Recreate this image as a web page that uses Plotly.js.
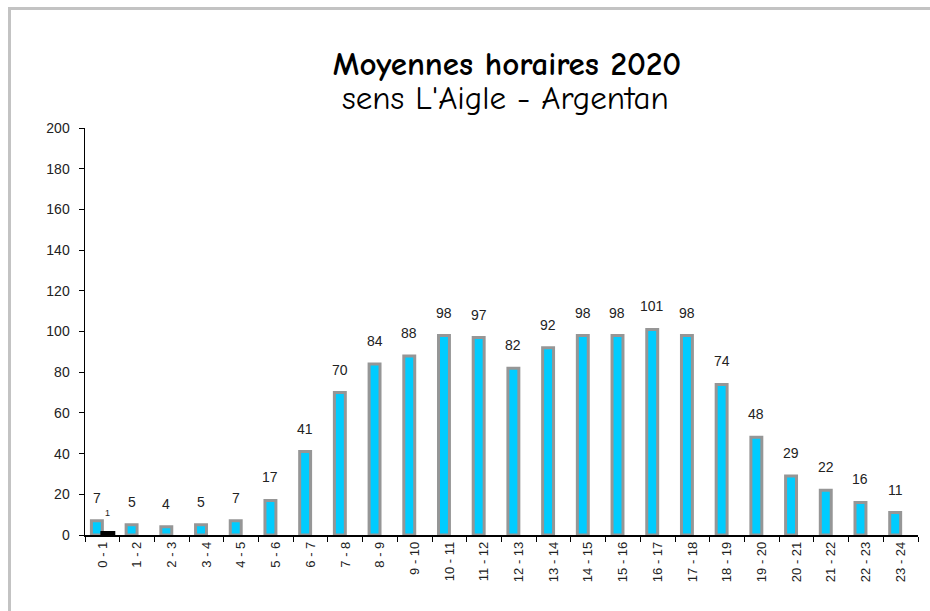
<!DOCTYPE html>
<html>
<head>
<meta charset="utf-8">
<script src="https://cdn.plot.ly/plotly-3.0.1.min.js"></script>
<style>
  html, body { margin: 0; padding: 0; background: #fff; }
  #wrap { position: relative; width: 930px; height: 611px; overflow: hidden; }
  #chart { position: absolute; left: 0; top: 0; width: 930px; height: 611px; }
  #frame { position: absolute; left: 8px; top: 7px; width: 940px; height: 620px;
           border-left: 3px solid #c3c3c3; border-top: 3px solid #c3c3c3; pointer-events: none; }
</style>
</head>
<body>
<div id="wrap">
  <div id="chart"></div>
  <div id="frame"></div>
</div>
<script>
const categories = ["0 - 1","1 - 2","2 - 3","3 - 4","4 - 5","5 - 6","6 - 7","7 - 8","8 - 9","9 - 10",
  "10 - 11","11 - 12","12 - 13","13 - 14","14 - 15","15 - 16","16 - 17","17 - 18","18 - 19","19 - 20",
  "20 - 21","21 - 22","22 - 23","23 - 24"];
const moyennes = [7,5,4,5,7,17,41,70,84,88,98,97,82,92,98,98,101,98,74,48,29,22,16,11];
const secondSeries = [1,null,null,null,null,null,null,null,null,null,null,null,null,null,null,null,null,null,null,null,null,null,null,null];
const yTicks = [0,20,40,60,80,100,120,140,160,180,200];
const titleLine1 = "Moyennes horaires 2020";
const titleLine2 = "sens L'Aigle - Argentan";

const titleFont = 'Comic Sans MS, Comic Neue, DejaVu Sans, sans-serif';

const traces = [
  {
    type: 'bar', x: categories, y: moyennes,
    marker: { color: '#00CCFF', line: { color: '#969696', width: 3 } },
    hoverinfo: 'x+y'
  },
  {
    type: 'bar', x: categories, y: secondSeries,
    marker: { color: '#000000', line: { color: '#000000', width: 4 } },
    hoverinfo: 'x+y'
  }
];

const annotations = [];
moyennes.forEach((v, i) => {
  annotations.push({
    x: categories[i], y: v, xref: 'x', yref: 'y', text: String(v),
    showarrow: false, xshift: -5.5, yshift: 23, yanchor: 'middle',
    font: { family: 'Liberation Sans, Arial, sans-serif', size: 14, color: '#222' }
  });
});
secondSeries.forEach((v, i) => {
  if (v !== null) {
    annotations.push({
      x: categories[i], y: v, xref: 'x', yref: 'y', text: String(v),
      showarrow: false, xshift: 5.5, yshift: 20, yanchor: 'middle',
      font: { family: 'Liberation Sans, Arial, sans-serif', size: 9, color: '#222' }
    });
  }
});
annotations.push({
  text: titleLine2, xref: 'paper', yref: 'paper',
  x: (505 - 85) / 833, xanchor: 'center',
  y: (535 - 98) / 407, yanchor: 'middle',
  showarrow: false,
  font: { family: titleFont, size: 33, color: '#000' }
});

const layout = {
  width: 930, height: 611,
  margin: { l: 85, r: 12, t: 128, b: 76, pad: 0 },
  paper_bgcolor: '#ffffff', plot_bgcolor: '#ffffff',
  showlegend: false,
  barmode: 'group', bargap: 0.37, bargroupgap: 0,
  title: {
    text: "<b>" + titleLine1 + "</b>",
    font: { family: titleFont, size: 33, color: '#000' },
    xref: 'container', x: 507 / 930, xanchor: 'center',
    yref: 'container', y: 1 - 63 / 611, yanchor: 'middle'
  },
  xaxis: {
    type: 'category',
    showline: true, linecolor: '#000', linewidth: 1.5,
    ticks: 'outside', tickson: 'boundaries', ticklen: 5, tickcolor: '#000', tickwidth: 1,
    tickangle: -90,
    tickfont: { family: 'Liberation Sans, Arial, sans-serif', size: 13, color: '#222' },
    showgrid: false, zeroline: false, fixedrange: true
  },
  yaxis: {
    range: [0, 200], tickvals: yTicks, ticktext: yTicks.map(String),
    showline: true, linecolor: '#000', linewidth: 1.5,
    ticks: 'outside', ticklen: 5, tickcolor: '#000', tickwidth: 1,
    ticklabelstandoff: 6,
    tickfont: { family: 'Liberation Sans, Arial, sans-serif', size: 14, color: '#222' },
    showgrid: false, zeroline: false, fixedrange: true
  },
  annotations: annotations
};

Plotly.newPlot('chart', traces, layout, { displayModeBar: false, staticPlot: true });
</script>
</body>
</html>
